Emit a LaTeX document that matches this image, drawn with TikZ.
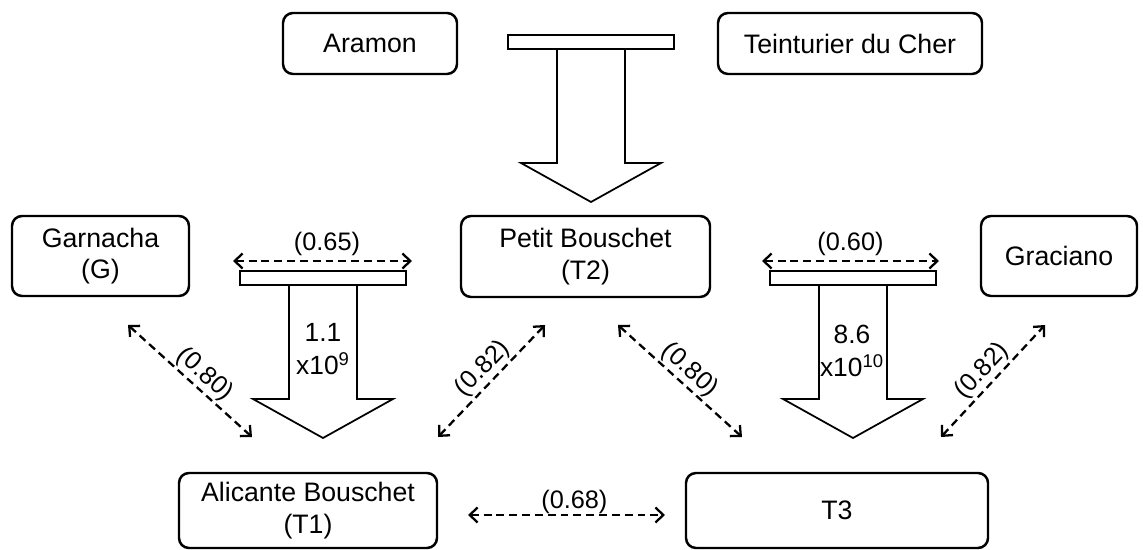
\documentclass[tikz,border=0pt]{standalone}
\usepackage{fontspec}
\setmainfont{Liberation Sans}
\usetikzlibrary{arrows.meta}

\begin{document}
\begin{tikzpicture}
[x=0.02cm, y=-0.02cm,
  boxDecorate/.style={draw, line width=1.4pt, rounded corners=0.2cm, align=center,
    inner sep=0pt, font=\fontsize{15.2}{18}\selectfont},
  barDecorate/.style={draw, line width=1pt, line join=miter},
  linkDecorate/.style={line width=1.3pt, dash pattern=on 4.5pt off 2.8pt,
    {Straight Barb[length=4.5pt,width=8.5pt,line width=1.3pt]}-{Straight Barb[length=4.5pt,width=8.5pt,line width=1.3pt]}},
  labelDecorate/.style={font=\fontsize{14.4}{18.5}\selectfont}]
\useasboundingbox (0,0) rectangle (1143,550);
%% varieties
\foreach \nodename/\x/\y/\w/\h/\txt in {
  aramon/370/43.5/174/61/Aramon,
  teinturier/850/43.5/264/61/Teinturier du Cher,
  garnacha/100.5/256/177/80/{Garnacha\\(G)},
  petit/585.5/256.5/249/81/{Petit Bouschet\\(T2)},
  graciano/1059/256/156/80/Graciano,
  alicante/308/510.5/258/75/{Alicante Bouschet\\(T1)},
  tthree/837/510.5/302/75/T3}
{
  \node (\nodename) at (\x,\y) [boxDecorate, minimum width=\w*0.02cm, minimum height=\h*0.02cm] {\txt};
}
%% crosses
\foreach \cx/\ty in {591/35, 323/271, 853/271}
{
  \draw[barDecorate] (\cx-83,\ty) rectangle (\cx+83,\ty+14);
  \draw[barDecorate] (\cx-34,\ty+14) -- (\cx-34,\ty+128) -- (\cx-70,\ty+128)
    -- (\cx,\ty+167) -- (\cx+70,\ty+128) -- (\cx+34,\ty+128) -- (\cx+34,\ty+14);
}
\node (firstcount) at (323,349) [labelDecorate, font=\fontsize{15}{18.5}\selectfont, align=center] {1.1\\x10\textsuperscript{9}};
\node (secondcount) at (852,351) [labelDecorate, font=\fontsize{15}{18.5}\selectfont, align=center] {8.6\\x10\textsuperscript{10}};
%% link ends
\foreach \cname/\x/\y in {
  ga/233/261, gb/412/261, ra/762/261, rb/939/261, ma/468/515, mb/665/515,
  la/128/325, lb/252/437, pa/438/437, pb/545/325,
  qa/618/325, qb/742/437, sa/941/437, sb/1045/325}
{
  \coordinate (\cname) at (\x,\y);
}
%% links
\foreach \startnode/\endnode/\lab/\p/\sep in {
  ga/gb/0.65/0.525/2.5pt, ra/rb/0.60/0.5/2.5pt, ma/mb/0.68/0.54/0pt,
  la/lb/0.80/0.54/1pt, pa/pb/0.82/0.52/1pt,
  qa/qb/0.80/0.5/1pt, sa/sb/0.82/0.5/1pt}
{
  \draw[linkDecorate] (\startnode) -- node[labelDecorate, pos=\p, sloped, above, inner sep=\sep] {(\lab)} (\endnode);
}
\end{tikzpicture}
\end{document}
